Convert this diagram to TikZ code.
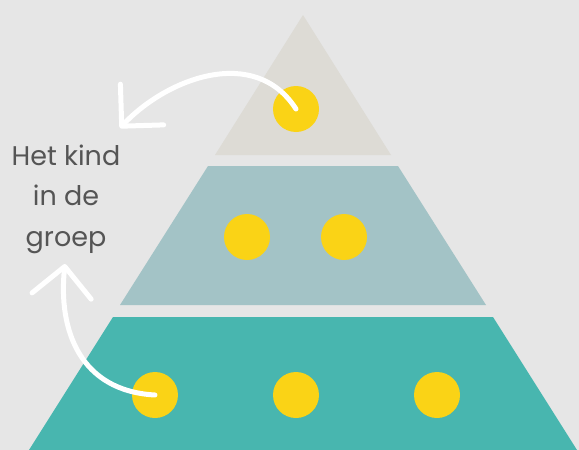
\documentclass[tikz,border=0pt]{standalone}
\usepackage{fontspec}
\setmainfont{Poppins}
\usepackage{tikz}
\usetikzlibrary{arrows.meta}
\definecolor{mybg}{RGB}{230,230,230}
\definecolor{mystone}{RGB}{221,219,213}
\definecolor{myblue}{RGB}{163,195,198}
\definecolor{myteal}{RGB}{72,182,175}
\definecolor{myyellow}{RGB}{250,211,22}
\definecolor{mytext}{RGB}{85,85,85}
\tikzset{
  dot/.style={circle, fill=myyellow, minimum size=46pt, inner sep=0pt},
  arrow/.style={draw=white, line width=5pt, line cap=round,
    -{Straight Barb[angle=90:42pt, round]}},
  txtbox/.style={align=center, text=mytext, inner sep=0pt,
    font=\fontsize{27}{40.5}\selectfont}
}
\begin{document}
\begin{tikzpicture}[x=1pt, y=-1pt]
  \fill[mybg] (0,0) rectangle (579,450);
  % pyramid
  \fill[mystone] (303,15) -- (391,155) -- (215,155) -- cycle;
  \fill[myblue] (208,166) -- (398,166) -- (486,305) -- (120,305) -- cycle;
  \fill[myteal] (113,317) -- (493,317) -- (577,450) -- (29,450) -- cycle;
  % dots
  \node[dot] (top) at (296,109) {};
  \node[dot] (midL) at (247,237) {};
  \node[dot] (midR) at (344,237) {};
  \node[dot] (botL) at (155,395) {};
  \node[dot] (botM) at (296,395) {};
  \node[dot] (botR) at (437,395) {};
  % text
  \node[txtbox] (kind) at (66,199) {Het kind\\in de\\groep};
  % arrows
  \coordinate (topTip) at (120,128);
  \coordinate (botTip) at (65,264);
  \draw[arrow] (top.center) .. controls (255,45) and (167,78) .. (topTip);
  \draw[arrow] (botL.center) .. controls (80,391) and (58,330) .. (botTip);
\end{tikzpicture}
\end{document}
